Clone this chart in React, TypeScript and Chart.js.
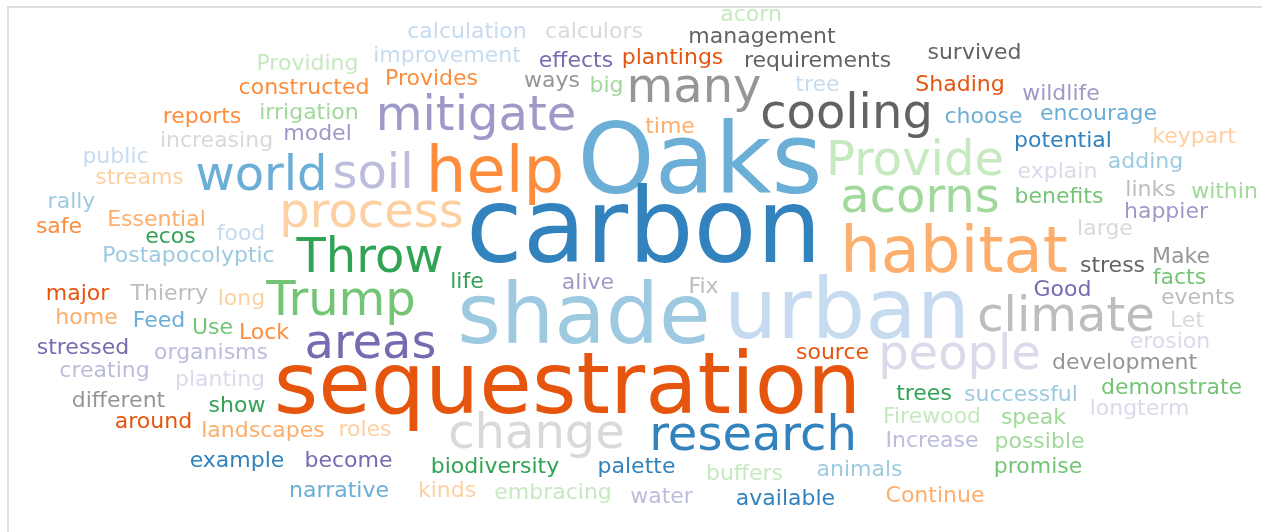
import React, { useEffect, useRef } from "react";
import { Chart, registerables } from "chart.js";

Chart.register(...registerables);

// Category20c palette
const PALETTE = [
  "#3182bd", "#6baed6", "#9ecae1", "#c6dbef",
  "#e6550d", "#fd8d3c", "#fdae6b", "#fdd0a2",
  "#31a354", "#74c476", "#a1d99b", "#c7e9c0",
  "#756bb1", "#9e9ac8", "#bcbddc", "#dadaeb",
  "#636363", "#969696", "#bdbdbd", "#d9d9d9",
];

const words = [
  "Oaks", "carbon", "sequestration", "shade", "urban", "habitat", "help",
  "climate", "mitigate", "many", "cooling", "Provide", "acorns", "world", "soil",
  "process", "Throw", "Trump", "areas", "people", "change", "research",
  "calculation", "calculors", "acorn", "management", "requirements", "survived",
  "Providing", "improvement", "effects", "plantings", "constructed", "Provides",
  "ways", "big", "tree", "Shading", "wildlife", "reports", "irrigation", "time",
  "choose", "encourage", "increasing", "model", "potential", "keypart", "public",
  "explain", "adding", "streams", "rally", "benefits", "links", "within",
  "Essential", "happier", "safe", "food", "ecos", "large", "Postapocolyptic",
  "stress", "Make", "major", "Thierry", "long", "life", "alive", "Fix", "facts",
  "Good", "events", "home", "Feed", "Use", "Lock", "Let", "stressed", "organisms",
  "source", "erosion", "creating", "planting", "development", "trees",
  "successful", "demonstrate", "different", "show", "longterm", "around",
  "Firewood", "speak", "landscapes", "roles", "Increase", "possible", "example",
  "become", "biodiversity", "palette", "animals", "promise", "buffers",
  "narrative", "kinds", "embracing", "water", "available", "Continue",
];

// word frequency tier (1 = least frequent, 7 = most frequent)
const weight = [
  6, 7, 5, 4, 4, 3, 3,
  2, 2, 2, 2, 2, 2, 2, 2,
  2, 2, 2, 2, 2, 2, 2,
  1, 1, 1, 1, 1, 1,
  1, 1, 1, 1, 1, 1,
  1, 1, 1, 1, 1, 1, 1, 1,
  1, 1, 1, 1, 1, 1, 1,
  1, 1, 1, 1, 1, 1, 1,
  1, 1, 1, 1, 1, 1, 1,
  1, 1, 1, 1, 1, 1, 1, 1, 1,
  1, 1, 1, 1, 1, 1, 1, 1, 1,
  1, 1, 1, 1, 1, 1,
  1, 1, 1, 1, 1, 1,
  1, 1, 1, 1, 1, 1, 1,
  1, 1, 1, 1, 1, 1,
  1, 1, 1, 1, 1, 1,
];

// cloud layout coordinates (word centre x, baseline y)
const posX = [
  700, 644, 567.5, 584, 847, 954, 495,
  1066, 476, 694, 846.5, 915, 920, 261.5, 373,
  371.5, 370, 341, 370.5, 959.5, 536.5, 753,
  467, 594, 751, 762, 817.5, 974.5,
  307.5, 447, 576, 672.5, 304, 431.5,
  552, 606.5, 817.5, 960, 1061, 202, 309, 670,
  983.5, 1098.5, 216.5, 317.5, 1063, 1194, 115.5,
  1057.5, 1145.5, 139.5, 71.5, 1059, 1150.5, 1224.5,
  156.5, 1166, 59, 241, 170.5, 1105, 188.5,
  1112.5, 1181, 77.5, 169.5, 241.5, 467, 588, 703.5, 1179.5,
  1062.5, 1198, 86.5, 159, 212.5, 264, 1187, 83, 211,
  832.5, 1170, 104.5, 220, 1124.5, 924,
  1021, 1171.5, 118.5, 237, 1139.5, 153.5,
  932, 1033.5, 263, 365, 932, 1039.5, 237,
  348.5, 495, 636.5, 859.5, 1038, 744.5,
  339, 447, 553, 661.5, 785.5, 935,
];

const posY = [
  193, 262, 413, 343, 338, 272, 192,
  331, 130, 102, 128, 175, 212, 190, 188,
  227, 272, 315, 358, 369, 448, 450,
  38, 38, 21, 43, 67, 59,
  70, 62, 67, 64, 94, 85,
  87, 92, 91, 91, 100, 123, 119, 133,
  123, 120, 147, 140, 147, 143, 163,
  178, 168, 184, 208, 203, 196, 198,
  226, 218, 233, 240, 243, 235, 262,
  272, 263, 300, 300, 305, 288, 289, 293, 284,
  296, 304, 324, 327, 334, 339, 327, 354, 359,
  359, 348, 377, 386, 369, 400,
  401, 394, 407, 412, 415, 428,
  423, 424, 437, 436, 447, 448, 467,
  467, 473, 473, 476, 473, 480,
  497, 497, 499, 503, 505, 502,
];

// colour group index into PALETTE
const colorGroup = [
  1, 0, 4, 2, 3, 6, 5,
  18, 13, 17, 16, 11, 10, 1, 14,
  7, 8, 9, 12, 15, 19, 0,
  3, 19, 11, 16, 16, 16,
  11, 3, 12, 4, 5, 5,
  17, 10, 3, 4, 13, 5, 10, 6,
  1, 1, 19, 13, 0, 7, 3,
  15, 2, 7, 2, 9, 18, 10,
  6, 13, 5, 3, 8, 19, 2,
  16, 17, 4, 18, 7, 8, 13, 18, 9,
  12, 18, 6, 1, 9, 5, 19, 12, 14,
  4, 15, 14, 15, 17, 8,
  2, 9, 17, 8, 15, 4,
  11, 10, 6, 7, 14, 10, 0,
  12, 8, 0, 2, 9, 11,
  1, 7, 11, 14, 0, 6,
];

const FONT_BY_WEIGHT = [0, 22, 48, 64, 84, 85.5, 98, 103];

const wordPlugin = {
  id: "wordcloudText",
  afterDatasetsDraw(chart: any) {
    const meta = chart.getDatasetMeta(0);
    const ctx = chart.ctx;
    ctx.save();
    ctx.textAlign = "center";
    ctx.textBaseline = "alphabetic";
    meta.data.forEach((el: any, i: number) => {
      const size = FONT_BY_WEIGHT[weight[i]];
      ctx.font = `${size}px "DejaVu Sans", Verdana, sans-serif`;
      ctx.fillStyle = PALETTE[colorGroup[i]];
      ctx.fillText(words[i], el.x, el.y);
    });
    ctx.restore();
  },
};

export default function App() {
  const ref = useRef<HTMLCanvasElement | null>(null);

  useEffect(() => {
    if (!ref.current) return;
    const chart = new Chart(ref.current, {
      type: "scatter",
      data: {
        datasets: [
          {
            data: words.map((_, i) => ({ x: posX[i], y: posY[i] })),
            pointRadius: 0,
            pointHoverRadius: 0,
            backgroundColor: "rgba(0,0,0,0)",
            borderColor: "rgba(0,0,0,0)",
          },
        ],
      },
      options: {
        animation: false,
        responsive: false,
        maintainAspectRatio: false,
        layout: { padding: 0 },
        plugins: {
          legend: { display: false },
          tooltip: { enabled: false },
        },
        scales: {
          x: { type: "linear", min: 0, max: 1262, display: false },
          y: { type: "linear", min: 0, max: 532, reverse: true, display: false },
        },
      },
      plugins: [wordPlugin],
    });
    return () => chart.destroy();
  }, []);

  return (
    <div
      style={{
        position: "fixed",
        left: 0,
        top: 0,
        width: 1262,
        height: 532,
        overflow: "hidden",
        background: "#ffffff",
      }}
    >
      <div
        style={{
          position: "absolute",
          left: 7,
          top: 6,
          width: 1400,
          height: 700,
          borderTop: "2px solid #dddddd",
          borderLeft: "2px solid #dddddd",
        }}
      />
      <canvas
        ref={ref}
        width={1262}
        height={532}
        style={{ position: "absolute", left: 0, top: 0, width: 1262, height: 532 }}
      />
    </div>
  );
}
